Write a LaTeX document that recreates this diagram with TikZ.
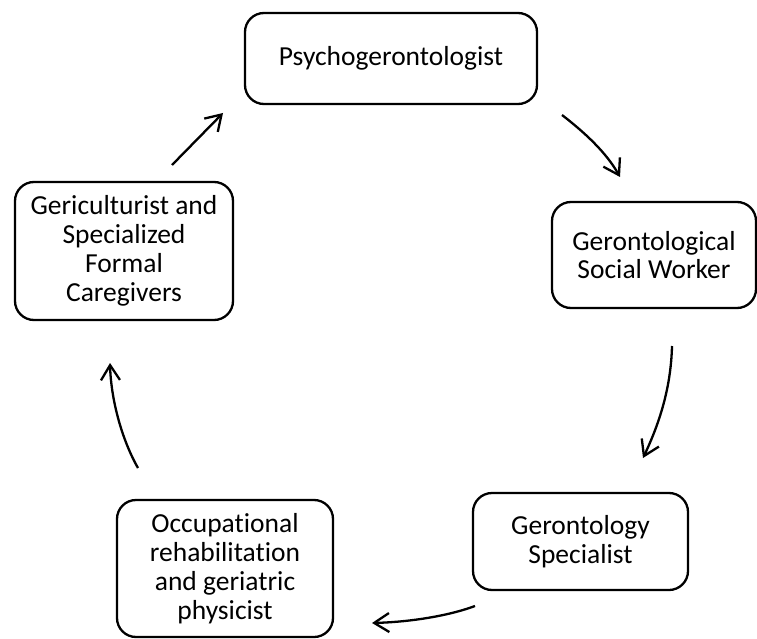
\documentclass[tikz,border=0pt]{standalone}
\usepackage{fontspec}
\setmainfont[Ligatures={NoCommon}]{Carlito}
\usetikzlibrary{arrows.meta}
\begin{document}
\begin{tikzpicture}[x=1pt,y=-1pt,
  rolebox/.style={draw=black, line width=2.3pt, rounded corners=19pt, inner sep=0pt,
    align=center, font=\fontsize{27.5}{28.8}\selectfont, text=black},
  flow/.style={draw=black, line width=2.3pt, -{Straight Barb[length=15pt,width=19pt,line width=2.3pt]}}
]
\useasboundingbox (0,0) rectangle (757,639);
\node[rolebox, minimum width=292pt, minimum height=91pt] (psy) at (391,58.5) {Psychogerontologist};
\node[rolebox, minimum width=204pt, minimum height=106pt] (soc) at (654,255) {Gerontological\\Social Worker};
\node[rolebox, minimum width=215pt, minimum height=97pt] (spec) at (580.5,541.5) {Gerontology\\Specialist};
\node[rolebox, minimum width=216pt, minimum height=137pt] (occ) at (225,568.5) {Occupational\\rehabilitation\\and geriatric\\physicist};
\node[rolebox, minimum width=218pt, minimum height=138pt] (ger) at (124,251) {Gericulturist and\\Specialized\\Formal\\Caregivers};

\coordinate (a1s) at (172,165); \coordinate (a1e) at (223,113);
\coordinate (a2s) at (562,115); \coordinate (a2e) at (620,177);
\coordinate (a3s) at (672,346); \coordinate (a3e) at (643,458);
\coordinate (a4s) at (475,606); \coordinate (a4e) at (372,623);
\coordinate (a5s) at (138,468); \coordinate (a5e) at (110,363);

\draw[flow] (a1s) -- (a1e);
\draw[flow] (a2s) .. controls (584,132) and (606,152) .. (a2e);
\draw[flow] (a3s) .. controls (671,385) and (661,420) .. (a3e);
\draw[flow] (a4s) .. controls (448,616) and (410,622) .. (a4e);
\draw[flow] (a5s) .. controls (122,440) and (111,400) .. (a5e);
\end{tikzpicture}
\end{document}
